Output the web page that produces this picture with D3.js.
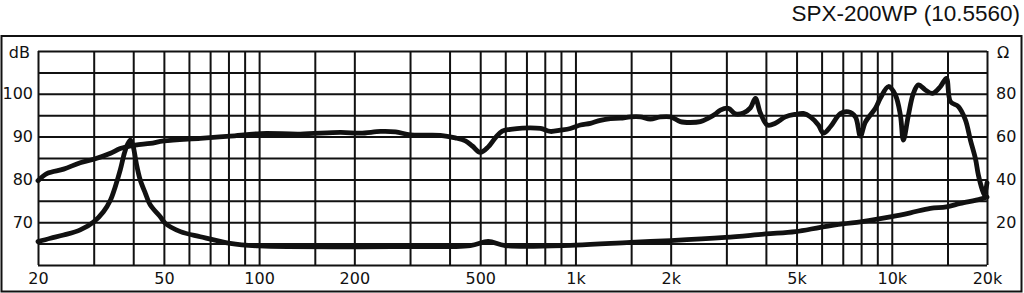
<!DOCTYPE html>
<html>
<head>
<meta charset="utf-8">
<script src="https://cdn.jsdelivr.net/npm/d3@7"></script>
<style>
  body { margin: 0; background: #fff; }
  .grid line { stroke: #111; stroke-width: 2; }
  .grid path { display: none; }
  .lbl path, .lbl line { display: none; }
  .lbl text { font-family: "DejaVu Sans", Verdana, sans-serif; font-size: 16px; fill: #111; }
</style>
</head>
<body>
<div id="wrapper"></div>
<script>
// values
const titleText = 'SPX-200WP (10.5560)';
const gridFreqs = [20, 30, 40, 50, 60, 70, 80, 90, 100, 150, 200, 300, 400, 500, 600, 700, 800, 900,
  1000, 1500, 2000, 3000, 4000, 5000, 6000, 7000, 8000, 9000, 10000, 15000, 20000];
const freqLabels = [20, 50, 100, 200, 500, 1000, 2000, 5000, 10000, 20000];
const dbGrid = [60, 65, 70, 75, 80, 85, 90, 95, 100, 105, 110];
const dbLabels = [70, 80, 90, 100];
const ohmLabels = [20, 40, 60, 80];

// frequency response [Hz, dB]
const splData = [
  [20, 79.7], [21.4, 81.4], [24.1, 82.4], [27.2, 83.9], [30, 84.7], [33.9, 86.1], [36.4, 87.2],
  [40.6, 88.0], [45.3, 88.4], [50, 89.0], [65.2, 89.6], [81, 90.1], [101, 90.7], [135, 90.6],
  [181, 91.0], [209, 90.8], [242, 91.2], [270, 91.1], [301, 90.4], [374, 90.3], [417, 89.7],
  [449, 89.0], [472, 87.8], [500, 86.3], [530, 87.6], [558, 89.7], [587, 91.3], [623, 91.7],
  [680, 92.0], [775, 91.9], [833, 91.2], [896, 91.5], [964, 91.9], [1037, 92.7], [1115, 93.1],
  [1199, 93.8], [1290, 94.2], [1387, 94.3], [1492, 94.6], [1604, 94.6], [1725, 94.1], [1855, 94.6],
  [2000, 94.6], [2146, 93.5], [2308, 93.3], [2482, 93.5], [2632, 94.3], [2770, 95.3], [2872, 96.2],
  [3044, 96.6], [3204, 95.3], [3396, 95.5], [3573, 96.7], [3706, 98.9], [3843, 95.5], [4044, 92.7],
  [4285, 93.1], [4609, 94.6], [4960, 95.2], [5256, 95.4], [5530, 94.6], [5861, 92.7], [6080, 90.8],
  [6396, 92.3], [6880, 95.4], [7294, 95.8], [7674, 94.6], [7958, 90.1], [8252, 93.4], [8878, 96.6],
  [9206, 99.0], [9758, 101.7], [10268, 99.7], [10648, 95.0], [10882, 89.2], [11286, 95.0],
  [11704, 100.1], [12138, 102.1], [12772, 100.9], [13442, 100.1], [14248, 101.7], [14884, 103.6],
  [15322, 98.2], [16242, 97.0], [17090, 93.9], [17724, 89.2], [18382, 84.9], [18786, 81.0],
  [19344, 77.5], [19626, 76.4], [20000, 79.2]
];

// impedance [Hz, ohm]
const impData = [
  [20, 10.9], [21.9, 12.5], [24.1, 14.0], [27.2, 16.4], [30, 20.2], [32.2, 24.9], [33.9, 30.4],
  [35.1, 36.6], [36.4, 44.4], [37.5, 52.2], [38.3, 56.1], [39.2, 58.4], [40.0, 55.3], [40.9, 47.5],
  [42.1, 39.7], [43.7, 33.5], [45.3, 28.0], [48.7, 22.6], [50.5, 19.5], [56.4, 15.6], [65.2, 13.2],
  [81, 10.1], [100, 8.9], [279, 8.6], [465, 9.1], [530, 11.0], [600, 9.1], [1000, 9.3], [1492, 10.6],
  [2000, 11.4], [2978, 12.9], [3986, 14.5], [4960, 15.6], [5948, 17.6], [6982, 19.2], [7958, 20.2],
  [9006, 21.4], [10000, 22.6], [11452, 24.4], [13246, 26.5], [14884, 27.2], [16478, 28.8],
  [19058, 30.8], [20000, 31.8]
];

drawChart();

function drawChart() {
  let dimensions = {
    width: 1024,
    height: 293,
    margin: { top: 51, right: 37, bottom: 28, left: 38 }
  };
  dimensions.boundW = dimensions.width - dimensions.margin.left - dimensions.margin.right;
  dimensions.boundH = dimensions.height - dimensions.margin.top - dimensions.margin.bottom;

  const svg = d3.select('#wrapper').append('svg')
    .attr('width', dimensions.width)
    .attr('height', dimensions.height);

  // outer frame + title
  svg.append('rect')
    .attr('x', 1.5).attr('y', 36)
    .attr('width', 1020).attr('height', 255.5)
    .attr('fill', 'none').attr('stroke', '#111').attr('stroke-width', 2);

  svg.append('text')
    .attr('x', 1020).attr('y', 21)
    .attr('text-anchor', 'end')
    .style('font-family', '"Liberation Sans", Arial, sans-serif')
    .style('font-size', '22.5px')
    .attr('fill', '#111')
    .text(titleText);

  const bounds = svg.append('g')
    .attr('transform', `translate(${dimensions.margin.left},${dimensions.margin.top})`);

  // scales
  const xScale = d3.scaleLog()
    .domain([20, 20000])
    .range([0, dimensions.boundW]);
  const yDb = d3.scaleLinear()
    .domain([60, 110])
    .range([dimensions.boundH, 0]);
  const yOhm = d3.scaleLinear()
    .domain([0, 100])
    .range([dimensions.boundH, 0]);

  // grid
  bounds.append('g')
    .attr('class', 'grid')
    .attr('transform', `translate(0,${dimensions.boundH})`)
    .call(d3.axisBottom(xScale).tickValues(gridFreqs).tickSize(-dimensions.boundH).tickFormat(''));
  bounds.append('g')
    .attr('class', 'grid')
    .call(d3.axisLeft(yDb).tickValues(dbGrid).tickSize(-dimensions.boundW).tickFormat(''));

  // labels
  const fmtFreq = d => d >= 1000 ? (d / 1000) + 'k' : String(d);
  bounds.append('g')
    .attr('class', 'lbl')
    .attr('transform', `translate(0,${dimensions.boundH})`)
    .call(d3.axisBottom(xScale).tickValues(freqLabels).tickSize(0).tickPadding(8).tickFormat(fmtFreq));

  const yLeft = bounds.append('g')
    .attr('class', 'lbl')
    .call(d3.axisLeft(yDb).tickValues(dbLabels).tickSize(0).tickPadding(5));
  yLeft.append('text')
    .attr('x', -8).attr('y', 7)
    .attr('text-anchor', 'end')
    .text('dB');

  const yRight = bounds.append('g')
    .attr('class', 'lbl')
    .attr('transform', `translate(${dimensions.boundW},0)`)
    .call(d3.axisRight(yOhm).tickValues(ohmLabels).tickSize(0).tickPadding(9));
  yRight.append('text')
    .attr('x', 10).attr('y', 7)
    .attr('text-anchor', 'start')
    .text('Ω');

  // curves
  const splLine = d3.line()
    .curve(d3.curveCatmullRom.alpha(0.5))
    .x(d => xScale(d[0]))
    .y(d => yDb(d[1]));
  const impLine = d3.line()
    .curve(d3.curveCatmullRom.alpha(0.5))
    .x(d => xScale(d[0]))
    .y(d => yOhm(d[1]));

  bounds.append('path')
    .attr('d', impLine(impData))
    .attr('fill', 'none')
    .attr('stroke', '#111')
    .attr('stroke-width', 4.8)
    .attr('stroke-linejoin', 'round')
    .attr('stroke-linecap', 'round');

  bounds.append('path')
    .attr('d', splLine(splData))
    .attr('fill', 'none')
    .attr('stroke', '#111')
    .attr('stroke-width', 4.8)
    .attr('stroke-linejoin', 'round')
    .attr('stroke-linecap', 'round');
}
</script>
</body>
</html>
